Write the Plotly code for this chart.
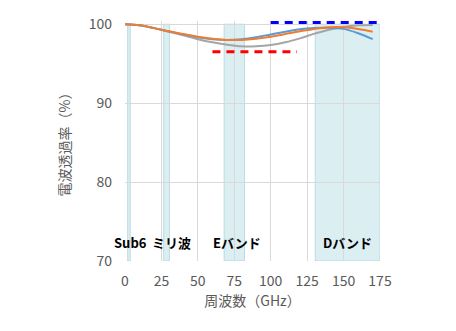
import plotly.graph_objects as go

freq = [0, 10, 20, 30, 40, 50, 60, 70, 80, 90, 100, 110, 120, 130, 140, 150, 160, 170]
gray_vals = [100, 99.85, 99.5, 99.05, 98.6, 98.1, 97.7, 97.4, 97.2, 97.2, 97.35, 97.7, 98.2, 98.8, 99.3, 99.65, 99.85, 99.9]
blue_vals = [100, 99.85, 99.5, 99.1, 98.7, 98.35, 98.1, 98.0, 98.1, 98.35, 98.7, 99.05, 99.35, 99.5, 99.55, 99.4, 98.85, 98.1]
orange_vals = [100, 99.85, 99.5, 99.1, 98.75, 98.4, 98.15, 98.0, 98.0, 98.15, 98.4, 98.75, 99.1, 99.4, 99.6, 99.6, 99.4, 99.05]

red_x = [60, 118]
red_y = [96.5, 96.5]
blue_dash_x = [100, 175]
blue_dash_y = [100.2, 100.2]

bands = [("Sub6", 1.8, 3.6, 3.5), ("ミリ波", 26.5, 30.5, 32), ("Eバンド", 68, 82, 77), ("Dバンド", 130.5, 175, 153)]
label_y = 72.4

x_ticks = [0, 25, 50, 75, 100, 125, 150, 175]
y_ticks = [70, 80, 90, 100]

font = "Noto Sans CJK JP"
fig = go.Figure()

for name, x0, x1, cx in bands:
    fig.add_shape(type="rect", x0=x0, x1=x1, y0=70, y1=100, xref="x", yref="y",
                  fillcolor="rgba(183,222,228,0.5)", line=dict(color="rgba(160,205,215,0.6)", width=1),
                  layer="below")
    fig.add_annotation(x=cx, y=label_y, text="<b>%s</b>" % name, showarrow=False,
                       font=dict(family=font, size=13, color="#000000"))

fig.add_trace(go.Scatter(x=freq, y=gray_vals, mode="lines", line=dict(color="#A5A5A5", width=2, shape="spline")))
fig.add_trace(go.Scatter(x=freq, y=blue_vals, mode="lines", line=dict(color="#5B9BD5", width=2, shape="spline")))
fig.add_trace(go.Scatter(x=freq, y=orange_vals, mode="lines", line=dict(color="#ED7D31", width=2, shape="spline")))
fig.add_trace(go.Scatter(x=red_x, y=red_y, mode="lines", line=dict(color="#FF0000", width=3, dash="8px,6px")))
fig.add_trace(go.Scatter(x=blue_dash_x, y=blue_dash_y, mode="lines",
                         line=dict(color="#0000FF", width=3, dash="8px,6px")))

fig.update_layout(
    width=456, height=331,
    margin=dict(l=125, r=76, t=21, b=70),
    paper_bgcolor="white", plot_bgcolor="white",
    showlegend=False,
    font=dict(family=font, size=14, color="#595959"),
)
fig.update_xaxes(range=[0, 175], tickvals=x_ticks, showgrid=True, gridcolor="#D9D9D9", gridwidth=1,
                 zeroline=False, showline=False, ticks="", ticklabelstandoff=10,
                 tickfont=dict(size=14, color="#595959"),
                 title=dict(text="周波数（GHz）", font=dict(size=14, color="#595959"), standoff=6))
fig.update_yaxes(range=[70, 100.4], tickvals=y_ticks, showgrid=True, gridcolor="#D9D9D9", gridwidth=1,
                 zeroline=False, showline=False, ticks="", ticklabelstandoff=12,
                 tickfont=dict(size=14, color="#595959"),
                 title=dict(text="電波透過率（%）", font=dict(size=14, color="#595959"), standoff=14))

fig.write_html("out.html")
